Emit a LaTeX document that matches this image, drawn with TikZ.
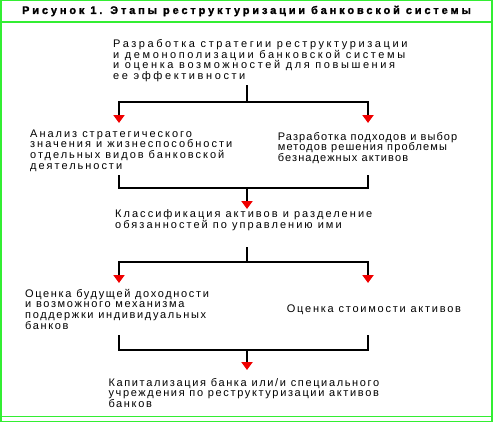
\documentclass[tikz,border=0pt]{standalone}
\usepackage{fontspec}
\setmainfont{Liberation Sans}
\newfontfamily\bodyfont{Liberation Sans}
\newfontfamily\titlefont[LetterSpace=26,FakeBold=1.5]{Liberation Sans Bold}
\usetikzlibrary{arrows.meta}
\definecolor{brdgreen}{RGB}{51,238,51}
\definecolor{tipred}{RGB}{240,0,0}
\tikzset{
  txt/.style={anchor=north west, align=left, inner sep=0pt, font=\bodyfont\fontsize{11}{10.6}\selectfont\addfontfeature{LetterSpace=#1}},
  ttl/.style={inner sep=0pt, font=\titlefont\fontsize{11}{12}\selectfont},
  ln/.style={line width=2.5pt, black},
  arr/.style={-{Triangle[width=11pt,length=8pt,color=tipred]}},
  brd/.style={draw=brdgreen}
}
\begin{document}
\begin{tikzpicture}[x=1pt,y=-1pt]
\useasboundingbox (0,0) rectangle (494,424);
\fill[white] (0,0) rectangle (494,424);
% border
\draw[brd,line width=1pt] (0,0.5) -- (492,0.5);
\draw[brd,line width=2pt] (1,0) -- (1,422);
\draw[brd,line width=1.5pt] (492,0) -- (492,422);
\draw[brd,line width=1.2pt] (0,22) -- (492,22);
\draw[brd,line width=1.5pt] (0,416.7) -- (492,416.7);
\draw[brd,line width=1.5pt] (0,421.5) -- (492,421.5);
% title
\node[ttl] (title) at (246.5,11) {Рисунок 1. Этапы реструктуризации банковской системы};
% texts
\node[txt=23.5] (top) at (113,39.5) {Разработка стратегии реструктуризации\\и демонополизации банковской системы\\и оценка возможностей для повышения\\ее эффективности};
\node[txt=18] (la) at (30,129.5) {Анализ стратегического\\значения и жизнеспособности\\отдельных видов банковской\\деятельности};
\node[txt=10] (ra) at (277.7,132) {Разработка подходов и выбор\\методов решения проблемы\\безнадежных активов};
\node[txt=18.5] (mid) at (115,209.5) {Классификация активов и разделение\\обязанностей по управлению ими};
\node[txt=15] (lb) at (25,289) {Оценка будущей доходности\\и возможного механизма\\поддержки индивидуальных\\банков};
\node[txt=16] (rb) at (286.7,304.5) {Оценка стоимости активов};
\node[txt=15] (bot) at (108.3,378) {Капитализация банка или/и специального\\учреждения по реструктуризации активов\\банков};
% connector points
\coordinate (s1) at (247,85);
\coordinate (j1) at (247,102);
\coordinate (e1l) at (119,123);
\coordinate (e1r) at (368,123);
\coordinate (s2l) at (119,175);
\coordinate (s2r) at (368,175);
\coordinate (j2) at (247,188);
\coordinate (e2) at (247,209);
\coordinate (s3) at (247,247);
\coordinate (j3) at (247,262);
\coordinate (e3l) at (119,283);
\coordinate (e3r) at (368,283);
\coordinate (s4l) at (119,335);
\coordinate (s4r) at (368,335);
\coordinate (j4) at (247,350);
\coordinate (e4) at (247,370);
% connectors
\draw[ln] (s1) -- (j1);
\draw[ln,arr] (j1) -| (e1l);
\draw[ln,arr] (j1) -| (e1r);
\draw[ln] (s2l) |- (j2);
\draw[ln] (s2r) |- (j2);
\draw[ln,arr] (j2) -- (e2);
\draw[ln] (s3) -- (j3);
\draw[ln,arr] (j3) -| (e3l);
\draw[ln,arr] (j3) -| (e3r);
\draw[ln] (s4l) |- (j4);
\draw[ln] (s4r) |- (j4);
\draw[ln,arr] (j4) -- (e4);
\end{tikzpicture}
\end{document}
